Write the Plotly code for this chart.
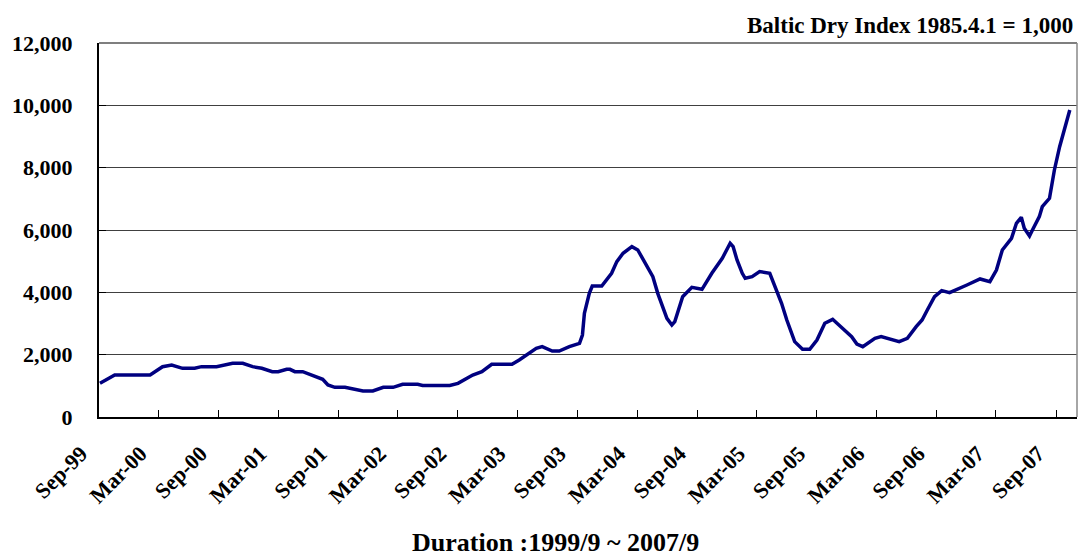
import plotly.graph_objects as go

# ---- data ----
dates = [
    "1999-09-04", "1999-10-19", "2000-02-04", "2000-03-13", "2000-04-10", "2000-05-13",
    "2000-06-19", "2000-07-10", "2000-08-25", "2000-10-13", "2000-11-13", "2000-12-13",
    "2001-01-10", "2001-02-11", "2001-03-01", "2001-03-27", "2001-04-06", "2001-04-21",
    "2001-05-15", "2001-06-12", "2001-07-15", "2001-07-31", "2001-08-21", "2001-09-21",
    "2001-11-15", "2001-12-15", "2002-01-16", "2002-02-15", "2002-03-16", "2002-05-01",
    "2002-05-16", "2002-08-07", "2002-09-01", "2002-10-16", "2002-11-13", "2002-12-13",
    "2003-02-13", "2003-03-07", "2003-04-28", "2003-05-16", "2003-06-16", "2003-07-07",
    "2003-08-07", "2003-09-07", "2003-09-16", "2003-09-22", "2003-10-07", "2003-10-16",
    "2003-11-14", "2003-12-14", "2003-12-30", "2004-01-18", "2004-02-14", "2004-03-03",
    "2004-03-30", "2004-04-18", "2004-05-03", "2004-05-31", "2004-06-15", "2004-06-24",
    "2004-07-18", "2004-08-15", "2004-09-15", "2004-10-15", "2004-11-16", "2004-12-10",
    "2004-12-19", "2004-12-31", "2005-01-16", "2005-01-25", "2005-02-15", "2005-03-10",
    "2005-04-10", "2005-05-01", "2005-05-16", "2005-06-01", "2005-06-25", "2005-07-19",
    "2005-08-10", "2005-09-01", "2005-09-25", "2005-10-19", "2005-11-19", "2005-12-16",
    "2006-01-01", "2006-01-19", "2006-02-25", "2006-03-16", "2006-05-10", "2006-06-04",
    "2006-07-01", "2006-07-19", "2006-08-04", "2006-08-26", "2006-09-17", "2006-10-11",
    "2006-12-03", "2007-01-12", "2007-02-11", "2007-03-03", "2007-03-21", "2007-04-18",
    "2007-05-03", "2007-05-18", "2007-05-27", "2007-06-12", "2007-06-21", "2007-07-12",
    "2007-07-21", "2007-08-12", "2007-08-27", "2007-09-12", "2007-10-13",
]
bdi = [
    1080, 1348, 1348, 1614, 1669, 1562,
    1562, 1615, 1615, 1722, 1722, 1615,
    1562, 1454, 1454, 1530, 1530, 1454,
    1454, 1348, 1209, 1027, 953, 953,
    834, 834, 953, 953, 1049, 1049,
    1010, 1010, 1080, 1348, 1454, 1690,
    1690, 1829, 2204, 2257, 2118, 2118,
    2257, 2364, 2630, 3326, 3968, 4203,
    4203, 4611, 4985, 5253, 5467, 5360,
    4878, 4503, 3968, 3166, 2952, 3060,
    3861, 4161, 4097, 4611, 5093, 5574,
    5467, 5038, 4611, 4450, 4503, 4664,
    4611, 4075, 3648, 3113, 2418, 2172,
    2172, 2471, 3006, 3134, 2845, 2577,
    2343, 2257, 2525, 2577, 2418, 2525,
    2899, 3113, 3434, 3861, 4054, 3990,
    4236, 4429, 4343, 4717, 5360, 5734,
    6215, 6408, 6055, 5808, 6001, 6428,
    6749, 7018, 7926, 8674, 9852,
]
tick_dates = [
    "1999-09-01", "2000-03-01", "2000-09-01", "2001-03-01", "2001-09-01", "2002-03-01",
    "2002-09-01", "2003-03-01", "2003-09-01", "2004-03-01", "2004-09-01", "2005-03-01",
    "2005-09-01", "2006-03-01", "2006-09-01", "2007-03-01", "2007-09-01",
]
tick_labels = [
    "Sep-99", "Mar-00", "Sep-00", "Mar-01", "Sep-01", "Mar-02", "Sep-02", "Mar-03",
    "Sep-03", "Mar-04", "Sep-04", "Mar-05", "Sep-05", "Mar-06", "Sep-06", "Mar-07", "Sep-07",
]
y_ticks = [0, 2000, 4000, 6000, 8000, 10000, 12000]

FONT = "Liberation Serif, Times New Roman, serif"

fig = go.Figure()
fig.add_trace(go.Scatter(
    x=dates, y=bdi, mode="lines",
    line=dict(color="#000080", width=3.5),
    showlegend=False, hoverinfo="skip",
))

fig.update_layout(
    width=1078, height=556,
    margin=dict(l=99, r=1, t=43, b=139),
    paper_bgcolor="white", plot_bgcolor="white",
    font=dict(family=FONT, size=20, color="black"),
    xaxis=dict(
        type="date",
        range=["1999-09-01", "2007-11-04"],
        tickmode="array", tickvals=tick_dates, ticktext=tick_labels,
        tickangle=-45,
        tickfont=dict(family=FONT, size=22, color="black", weight="bold"),
        ticks="inside", ticklen=7, tickcolor="black",
        showline=True, linecolor="black", linewidth=2,
        showgrid=False, zeroline=False,
        ticklabelstandoff=13, ticklabelshift=-18,
        automargin=False,
    ),
    yaxis=dict(
        range=[0, 12000],
        tickmode="array", tickvals=y_ticks,
        tickformat=",",
        tickfont=dict(family=FONT, size=22, color="black", weight="bold"),
        ticks="inside", ticklen=7, tickcolor="black",
        showline=True, linecolor="black", linewidth=2,
        showgrid=True, gridcolor="#404040", gridwidth=1,
        zeroline=False,
        ticklabelstandoff=20,
        automargin=False,
    ),
    shapes=[
        dict(type="line", xref="paper", yref="paper", x0=0, x1=1, y0=1, y1=1,
             line=dict(color="#555555", width=1.5)),
        dict(type="line", xref="paper", yref="paper", x0=1, x1=1, y0=0, y1=1,
             line=dict(color="#888888", width=1.5)),
    ],
    annotations=[
        dict(text="<b>Baltic Dry Index 1985.4.1 = 1,000</b>",
             xref="paper", yref="paper", x=0.998, y=1.048,
             xanchor="right", yanchor="middle", showarrow=False,
             font=dict(family=FONT, size=23, color="black")),
        dict(text="<b>Duration :1999/9 ~ 2007/9</b>",
             xref="paper", yref="paper", x=0.467, y=-0.336,
             xanchor="center", yanchor="middle", showarrow=False,
             font=dict(family=FONT, size=26, color="black")),
    ],
)

fig.write_html("out.html", config={"displayModeBar": False},
               post_script="document.body.style.margin='0';")
